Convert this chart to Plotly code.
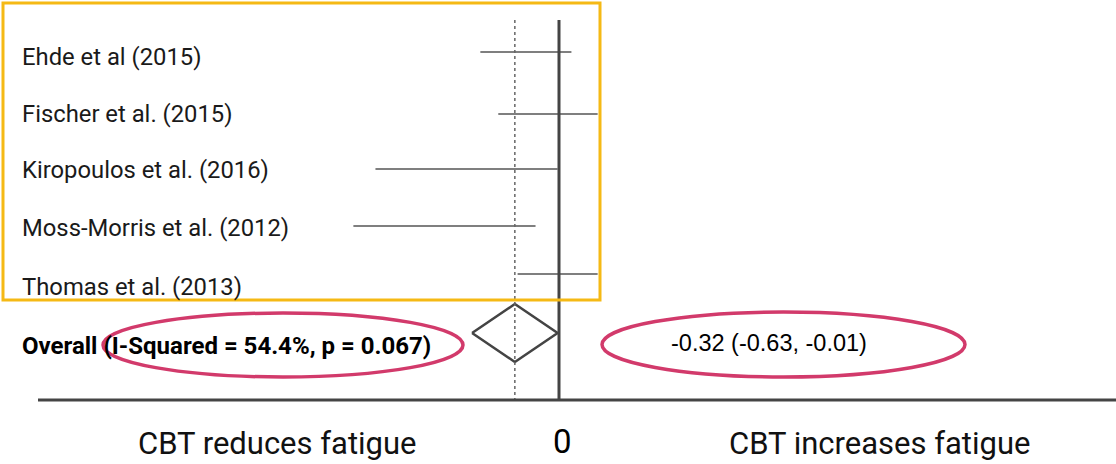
import plotly.graph_objects as go

# ---- data ----
studies = ["Ehde et al (2015)", "Fischer et al. (2015)", "Kiropoulos et al. (2016)",
           "Moss-Morris et al. (2012)", "Thomas et al. (2013)"]
ci_low = [-0.57, -0.44, -1.33, -1.49, -0.30]
ci_high = [0.09, 0.28, -0.01, -0.17, 0.28]
overall_est = -0.32
overall_low = -0.63
overall_high = -0.01
overall_label = "Overall (I-Squared = 54.4%, p = 0.067)"
overall_text = "-0.32 (-0.63, -0.01)"
left_label = "CBT reduces fatigue"
right_label = "CBT increases fatigue"
zero_label = "0"

# ---- layout constants (pixel geometry) ----
W, H = 1116, 464
ZERO_PX = 559
PX_PER_UNIT = 138.0
row_y = [52, 114, 169, 226, 274]       # CI line rows (pixels from top)
label_y = [57, 114, 170, 228, 287]     # label rows
overall_y = 333
axis_y = 400


def px2x(px):
    return (px - ZERO_PX) / PX_PER_UNIT


def fy(py):
    return 1 - py / H


fig = go.Figure()

# CI lines
for i, (lo, hi) in enumerate(zip(ci_low, ci_high)):
    fig.add_trace(go.Scatter(x=[lo, hi], y=[row_y[i], row_y[i]], mode="lines",
                             line=dict(color="#555555", width=1.5),
                             hoverinfo="skip", showlegend=False))

# Diamond
half_h = 29
fig.add_trace(go.Scatter(
    x=[overall_low, overall_est, overall_high, overall_est, overall_low],
    y=[overall_y, overall_y - half_h, overall_y, overall_y + half_h, overall_y],
    mode="lines", line=dict(color="#444444", width=2.5),
    hoverinfo="skip", showlegend=False))

shapes = []
# dotted overall line
shapes.append(dict(type="line", xref="x", yref="y", x0=overall_est, x1=overall_est,
                   y0=20, y1=axis_y, line=dict(color="#666666", width=1.5, dash="dot")))
# zero line
shapes.append(dict(type="line", xref="x", yref="y", x0=0, x1=0, y0=20, y1=axis_y,
                   line=dict(color="#444444", width=3)))
# horizontal axis line
shapes.append(dict(type="line", xref="x", yref="y", x0=px2x(38), x1=px2x(W), y0=axis_y,
                   y1=axis_y, line=dict(color="#444444", width=3)))
# yellow box
shapes.append(dict(type="rect", xref="x", yref="y", x0=px2x(3), x1=px2x(600), y0=3, y1=300,
                   line=dict(color="#F5B915", width=3), fillcolor="rgba(0,0,0,0)"))
# ellipses
shapes.append(dict(type="circle", xref="x", yref="y", x0=px2x(103), x1=px2x(463), y0=313,
                   y1=377, line=dict(color="#D23A6B", width=3.5)))
shapes.append(dict(type="circle", xref="x", yref="y", x0=px2x(602), x1=px2x(965), y0=312,
                   y1=377, line=dict(color="#D23A6B", width=3.5)))

annotations = []
for i, s in enumerate(studies):
    annotations.append(dict(x=20 / W, y=fy(label_y[i]), xref="paper", yref="paper",
                            text=s, showarrow=False, xanchor="left", yanchor="middle",
                            font=dict(family="Roboto", size=23.8, color="#1a1a1a")))
annotations.append(dict(x=20 / W, y=fy(346), xref="paper", yref="paper",
                        text="<b>" + overall_label + "</b>", showarrow=False,
                        xanchor="left", yanchor="middle",
                        font=dict(family="Roboto", size=24, color="#000000")))
annotations.append(dict(x=669 / W, y=fy(343), xref="paper", yref="paper",
                        text=overall_text, showarrow=False, xanchor="left", yanchor="middle",
                        font=dict(family="Liberation Sans", size=23.5, color="#000000")))
annotations.append(dict(x=277 / W, y=fy(443), xref="paper", yref="paper",
                        text=left_label, showarrow=False, xanchor="center", yanchor="middle",
                        font=dict(family="Roboto", size=31, color="#111111")))
annotations.append(dict(x=879 / W, y=fy(443), xref="paper", yref="paper",
                        text=right_label, showarrow=False, xanchor="center", yanchor="middle",
                        font=dict(family="Roboto", size=31, color="#111111")))
annotations.append(dict(x=562 / W, y=fy(441), xref="paper", yref="paper",
                        text=zero_label, showarrow=False,
                        xanchor="center", yanchor="middle",
                        font=dict(family="Roboto", size=33, color="#000000")))

fig.update_layout(
    width=W, height=H, margin=dict(l=0, r=0, t=0, b=0),
    paper_bgcolor="white", plot_bgcolor="white",
    xaxis=dict(range=[px2x(0), px2x(W)], visible=False, fixedrange=True),
    yaxis=dict(range=[H, 0], visible=False, fixedrange=True),
    shapes=shapes, annotations=annotations, showlegend=False,
)

fig.write_html("out.html", config={"displayModeBar": False},
               post_script="document.body.style.margin='0';document.body.style.overflow='hidden';")
